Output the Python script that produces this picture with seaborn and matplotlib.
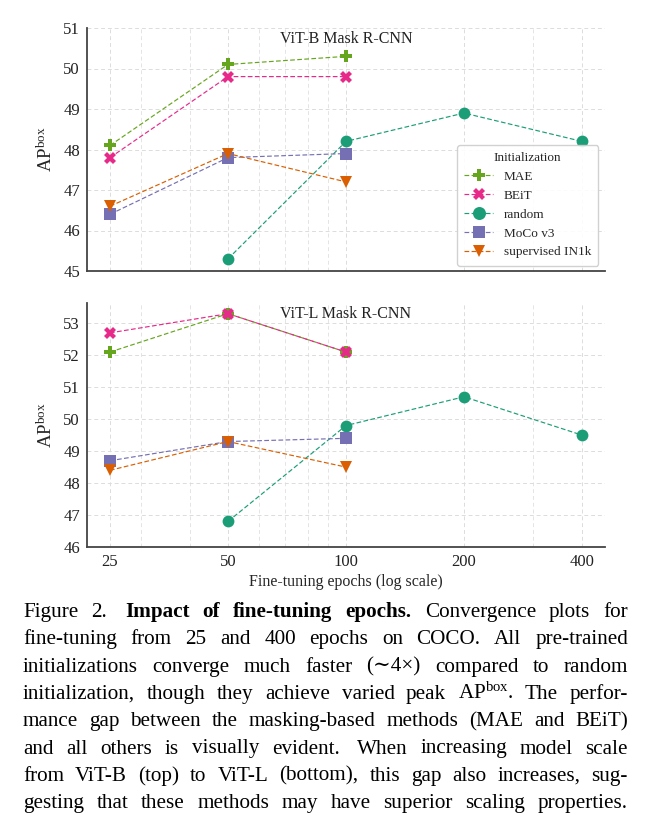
import numpy as np
import pandas as pd
import seaborn as sns
import matplotlib
matplotlib.use("Agg")
import matplotlib.pyplot as plt
from matplotlib.ticker import FixedLocator, FixedFormatter, LogLocator, NullFormatter

# ---------------- data ----------------
inits = ["MAE", "BEiT", "random", "MoCo v3", "supervised IN1k"]
epochs_pre = [25, 50, 100]
epochs_rand = [50, 100, 200, 400]

vitb_mae = [48.1, 50.1, 50.3]
vitb_beit = [47.8, 49.8, 49.8]
vitb_random = [45.3, 48.2, 48.9, 48.2]
vitb_moco = [46.4, 47.8, 47.9]
vitb_sup = [46.6, 47.9, 47.2]

vitl_mae = [52.1, 53.3, 52.1]
vitl_beit = [52.7, 53.3, 52.1]
vitl_random = [46.8, 49.8, 50.7, 49.5]
vitl_moco = [48.7, 49.3, 49.4]
vitl_sup = [48.4, 49.3, 48.5]

xticks = [25, 50, 100, 200, 400]
xticklabels = ["25", "50", "100", "200", "400"]
yticks_b = [45, 46, 47, 48, 49, 50, 51]
yticks_l = [46, 47, 48, 49, 50, 51, 52, 53]

colors = {"MAE": "#66a61e", "BEiT": "#e7298a", "random": "#1b9e77",
          "MoCo v3": "#7570b3", "supervised IN1k": "#d95f02"}
markers = {"MAE": "P", "BEiT": "X", "random": "o", "MoCo v3": "s", "supervised IN1k": "v"}


def make_df(mae, beit, rand, moco, sup):
    rows = []
    for name, ep, vals in [("MAE", epochs_pre, mae), ("BEiT", epochs_pre, beit),
                           ("random", epochs_rand, rand), ("MoCo v3", epochs_pre, moco),
                           ("supervised IN1k", epochs_pre, sup)]:
        for e, v in zip(ep, vals):
            rows.append({"epochs": e, "AP": v, "init": name})
    return pd.DataFrame(rows)


df_b = make_df(vitb_mae, vitb_beit, vitb_random, vitb_moco, vitb_sup)
df_l = make_df(vitl_mae, vitl_beit, vitl_random, vitl_moco, vitl_sup)

# ---------------- style ----------------
sns.set_theme(style="whitegrid")
plt.rcParams["font.family"] = ["Liberation Serif", "DejaVu Serif"]
plt.rcParams["mathtext.fontset"] = "custom"
plt.rcParams["mathtext.rm"] = "Liberation Serif"
plt.rcParams["mathtext.it"] = "Liberation Serif:italic"
plt.rcParams["mathtext.bf"] = "Liberation Serif:bold"

W, H = 656, 825
fig = plt.figure(figsize=(W / 100, H / 100), dpi=100)
fig.patch.set_facecolor("white")

ax_b = fig.add_axes([87 / W, 1 - 271 / H, 518 / W, 243 / H])
ax_l = fig.add_axes([87 / W, 1 - 547 / H, 518 / W, 244.5 / H])

dashes = {k: (4, 2) for k in inits}

for ax, df, yt, ylim, title, show_leg in [
        (ax_b, df_b, yticks_b, (45, 51), "ViT-B Mask R-CNN", True),
        (ax_l, df_l, yticks_l, (46, 53.65), "ViT-L Mask R-CNN", False)]:
    sns.lineplot(data=df, x="epochs", y="AP", hue="init", style="init",
                 hue_order=inits, style_order=inits, palette=colors,
                 markers=markers, dashes=dashes, markersize=8.5, linewidth=0.85,
                 markeredgewidth=0, ax=ax, legend=show_leg)
    ax.set_xscale("log")
    ax.set_xlim(25 / 2 ** (23 / 118), 400 * 2 ** (23 / 118))
    ax.set_ylim(*ylim)
    ax.xaxis.set_major_locator(FixedLocator(xticks))
    ax.xaxis.set_major_formatter(FixedFormatter(xticklabels))
    ax.xaxis.set_minor_locator(LogLocator(base=10, subs=np.arange(2, 10)))
    ax.xaxis.set_minor_formatter(NullFormatter())
    ax.yaxis.set_major_locator(FixedLocator(yt))
    ax.grid(which="major", color="#dcdcdc", linestyle=(0, (4, 3)), linewidth=0.7)
    ax.grid(which="minor", axis="x", color="#e4e4e4", linestyle=(0, (4, 3)), linewidth=0.7)
    ax.set_facecolor("white")
    for s in ["top", "right"]:
        ax.spines[s].set_visible(False)
    for s in ["left", "bottom"]:
        ax.spines[s].set_color("#444444")
        ax.spines[s].set_linewidth(1.3)
    ax.tick_params(which="both", length=0, labelsize=12, pad=5, colors="#222222")
    ax.set_ylabel("AP$^{\\mathrm{box}}$", fontsize=13.5, labelpad=5)
    ax.text(0.5, 0.955, title, transform=ax.transAxes, ha="center", va="center",
            fontsize=11.5, color="#222222")
    for ln in ax.lines:
        ln.set_markeredgewidth(0)

ax_b.set_xlabel("")
ax_b.tick_params(axis="x", labelbottom=False)
ax_l.set_xlabel("Fine-tuning epochs (log scale)", fontsize=11.5, labelpad=3)

leg = ax_b.legend(title="Initialization", loc="lower right", bbox_to_anchor=(1.0, -0.005),
                  fontsize=9.5, title_fontsize=9.5, frameon=True, framealpha=0.9,
                  edgecolor="#cccccc", borderpad=0.55, labelspacing=0.5, handlelength=2.2,
                  markerscale=1.1)
for h in leg.legend_handles:
    try:
        h.set_markeredgewidth(0)
        h.set_linestyle((0, (4, 2)))
        h.set_linewidth(0.85)
    except Exception:
        pass

# ---------------- caption (justified) ----------------
caption_lines = [
    [("Figure", "normal"), ("2.", "normal"), ("", "gap"), ("Impact", "bold"), ("of", "bold"),
     ("fine-tuning", "bold"), ("epochs.", "bold"), ("Convergence", "normal"),
     ("plots", "normal"), ("for", "normal")],
    [(w, "normal") for w in "fine-tuning from 25 and 400 epochs on COCO. All pre-trained".split()],
    [(w, "normal") for w in "initializations converge much faster (\u223c4\u00d7) compared to random".split()],
    [(w, "normal") for w in ["initialization,", "though", "they", "achieve", "varied", "peak",
                             "AP$^{\\mathrm{box}}$.", "The", "perfor-"]],
    [(w, "normal") for w in "mance gap between the masking-based methods (MAE and BEiT)".split()],
    [(w, "normal") for w in "and all others is visually evident.".split()] + [("", "gap")] +
    [(w, "normal") for w in "When increasing model scale".split()],
    [(w, "normal") for w in "from ViT-B (top) to ViT-L (bottom), this gap also increases, sug-".split()],
    [(w, "normal") for w in "gesting that these methods may have superior scaling properties.".split()],
]

renderer = fig.canvas.get_renderer()
x0, x1 = 23, 628
base0, dy = 617, 27.3
fs = 15.2
for i, line in enumerate(caption_lines):
    y = base0 + i * dy
    items = []
    for word, wt in line:
        if wt == "gap":
            items.append(None)
            continue
        t = fig.text(0, 1 - y / H, word, fontsize=fs, fontweight=wt, ha="left",
                     va="baseline", color="black",
                     family=["Liberation Serif", "DejaVu Serif"])
        items.append(t)
    widths = []
    for t in items:
        if t is None:
            continue
        bb = t.get_window_extent(renderer)
        widths.append(bb.width)
    n_words = len(widths)
    n_extra = sum(1 for t in items if t is None)
    total = sum(widths)
    gaps = (n_words - 1) + 0.35 * n_extra
    g = (x1 - x0 - total) / gaps
    x = x0
    k = 0
    for t in items:
        if t is None:
            x += 0.35 * g
            continue
        t.set_x(x / W)
        x += widths[k] + g
        k += 1

fig.savefig("out.png", dpi=100, facecolor="white")
